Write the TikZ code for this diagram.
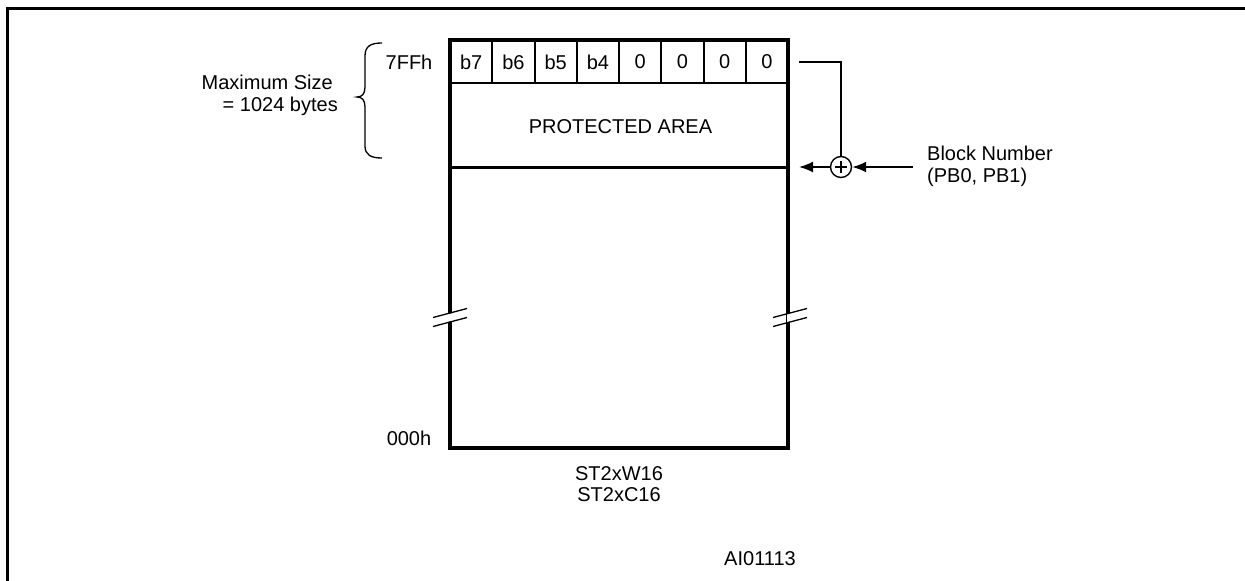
\documentclass[tikz,border=0pt]{standalone}
\usepackage{fontspec}
\setmainfont{Liberation Sans}
\usetikzlibrary{arrows.meta}
\begin{document}
\begin{tikzpicture}[x=1pt,y=-1pt,
  lbl/.style={inner sep=0pt,font=\fontsize{20}{22}\selectfont},
  arr/.style={line width=1.8pt,-{Latex[length=14pt,width=11pt]}},
  thin/.style={line width=1.8pt}]
\useasboundingbox (0,0) rectangle (1245,581);
% frame
\draw[line width=2.2pt] (7.5,581) -- (7.5,8.5) -- (1245,8.5);
% bit cells
\foreach \i/\t in {0/b7,1/b6,2/b5,3/b4,4/0,5/0,6/0,7/0}{
  \node[lbl] (bit\i) at ({450+42.25*(\i+0.5)},62) {\t};
}
\foreach \i in {1,...,7}{
  \draw[line width=2pt] ({450+42.25*\i},40) -- ({450+42.25*\i},83);
}
\draw[line width=2pt] (450,83) -- (788,83);
\draw[line width=3pt] (450,167) -- (788,167);
\draw[line width=3.2pt] (450,40) rectangle (788,448);
\node[lbl] (prot) at (620.5,127) {PROTECTED AREA};
% break marks
\foreach \x in {450,790}{
  \fill[white] (\x-3,314) -- (\x+3,313) -- (\x+3,321) -- (\x-3,322) -- cycle;
  \draw[line width=1.3pt] (\x-17,317.5) -- (\x+17,308.5);
  \draw[line width=1.3pt] (\x-17,326.5) -- (\x+17,317.5);
}
% labels left
\node[lbl] (top) at (409,62) {7FFh};
\node[lbl] (bot) at (409,438) {000h};
\node[lbl,anchor=east] (max1) at (333,82) {Maximum Size};
\node[lbl,anchor=east] (max2) at (338,106) {= 1024 bytes};
\draw[line width=1.3pt] (382,43) .. controls (371,43) and (365,46) .. (365,56) -- (365,87)
  .. controls (365,94) and (362,97) .. (357,97) .. controls (362,97) and (365,100) .. (365,107)
  -- (365,146) .. controls (365,155) and (371,158) .. (382,158);
% xor and arrows
\node[circle,draw,line width=1.4pt,minimum size=21pt,inner sep=0pt] (xor) at (841,167) {};
\draw[line width=1.2pt] (835,167) -- (847,167) (841,161) -- (841,173);
\coordinate (cin) at (799,167);
\coordinate (tapS) at (799,62);
\draw[thin] (tapS) -- (841,62) -- (xor.north);
\draw[arr] (xor.west) -- (cin);
\coordinate (bnS) at (913,167);
\draw[arr] (bnS) -- (xor.east);
\node[lbl,anchor=west] (bn1) at (927,153) {Block Number};
\node[lbl,anchor=west] (bn2) at (927,177) {(PB0, PB1)};
% bottom labels
\node[lbl] (dev1) at (619,474) {ST2xW16};
\node[lbl] (dev2) at (619,495) {ST2xC16};
\node[lbl] (ai) at (760,559) {AI01113};
\end{tikzpicture}
\end{document}
